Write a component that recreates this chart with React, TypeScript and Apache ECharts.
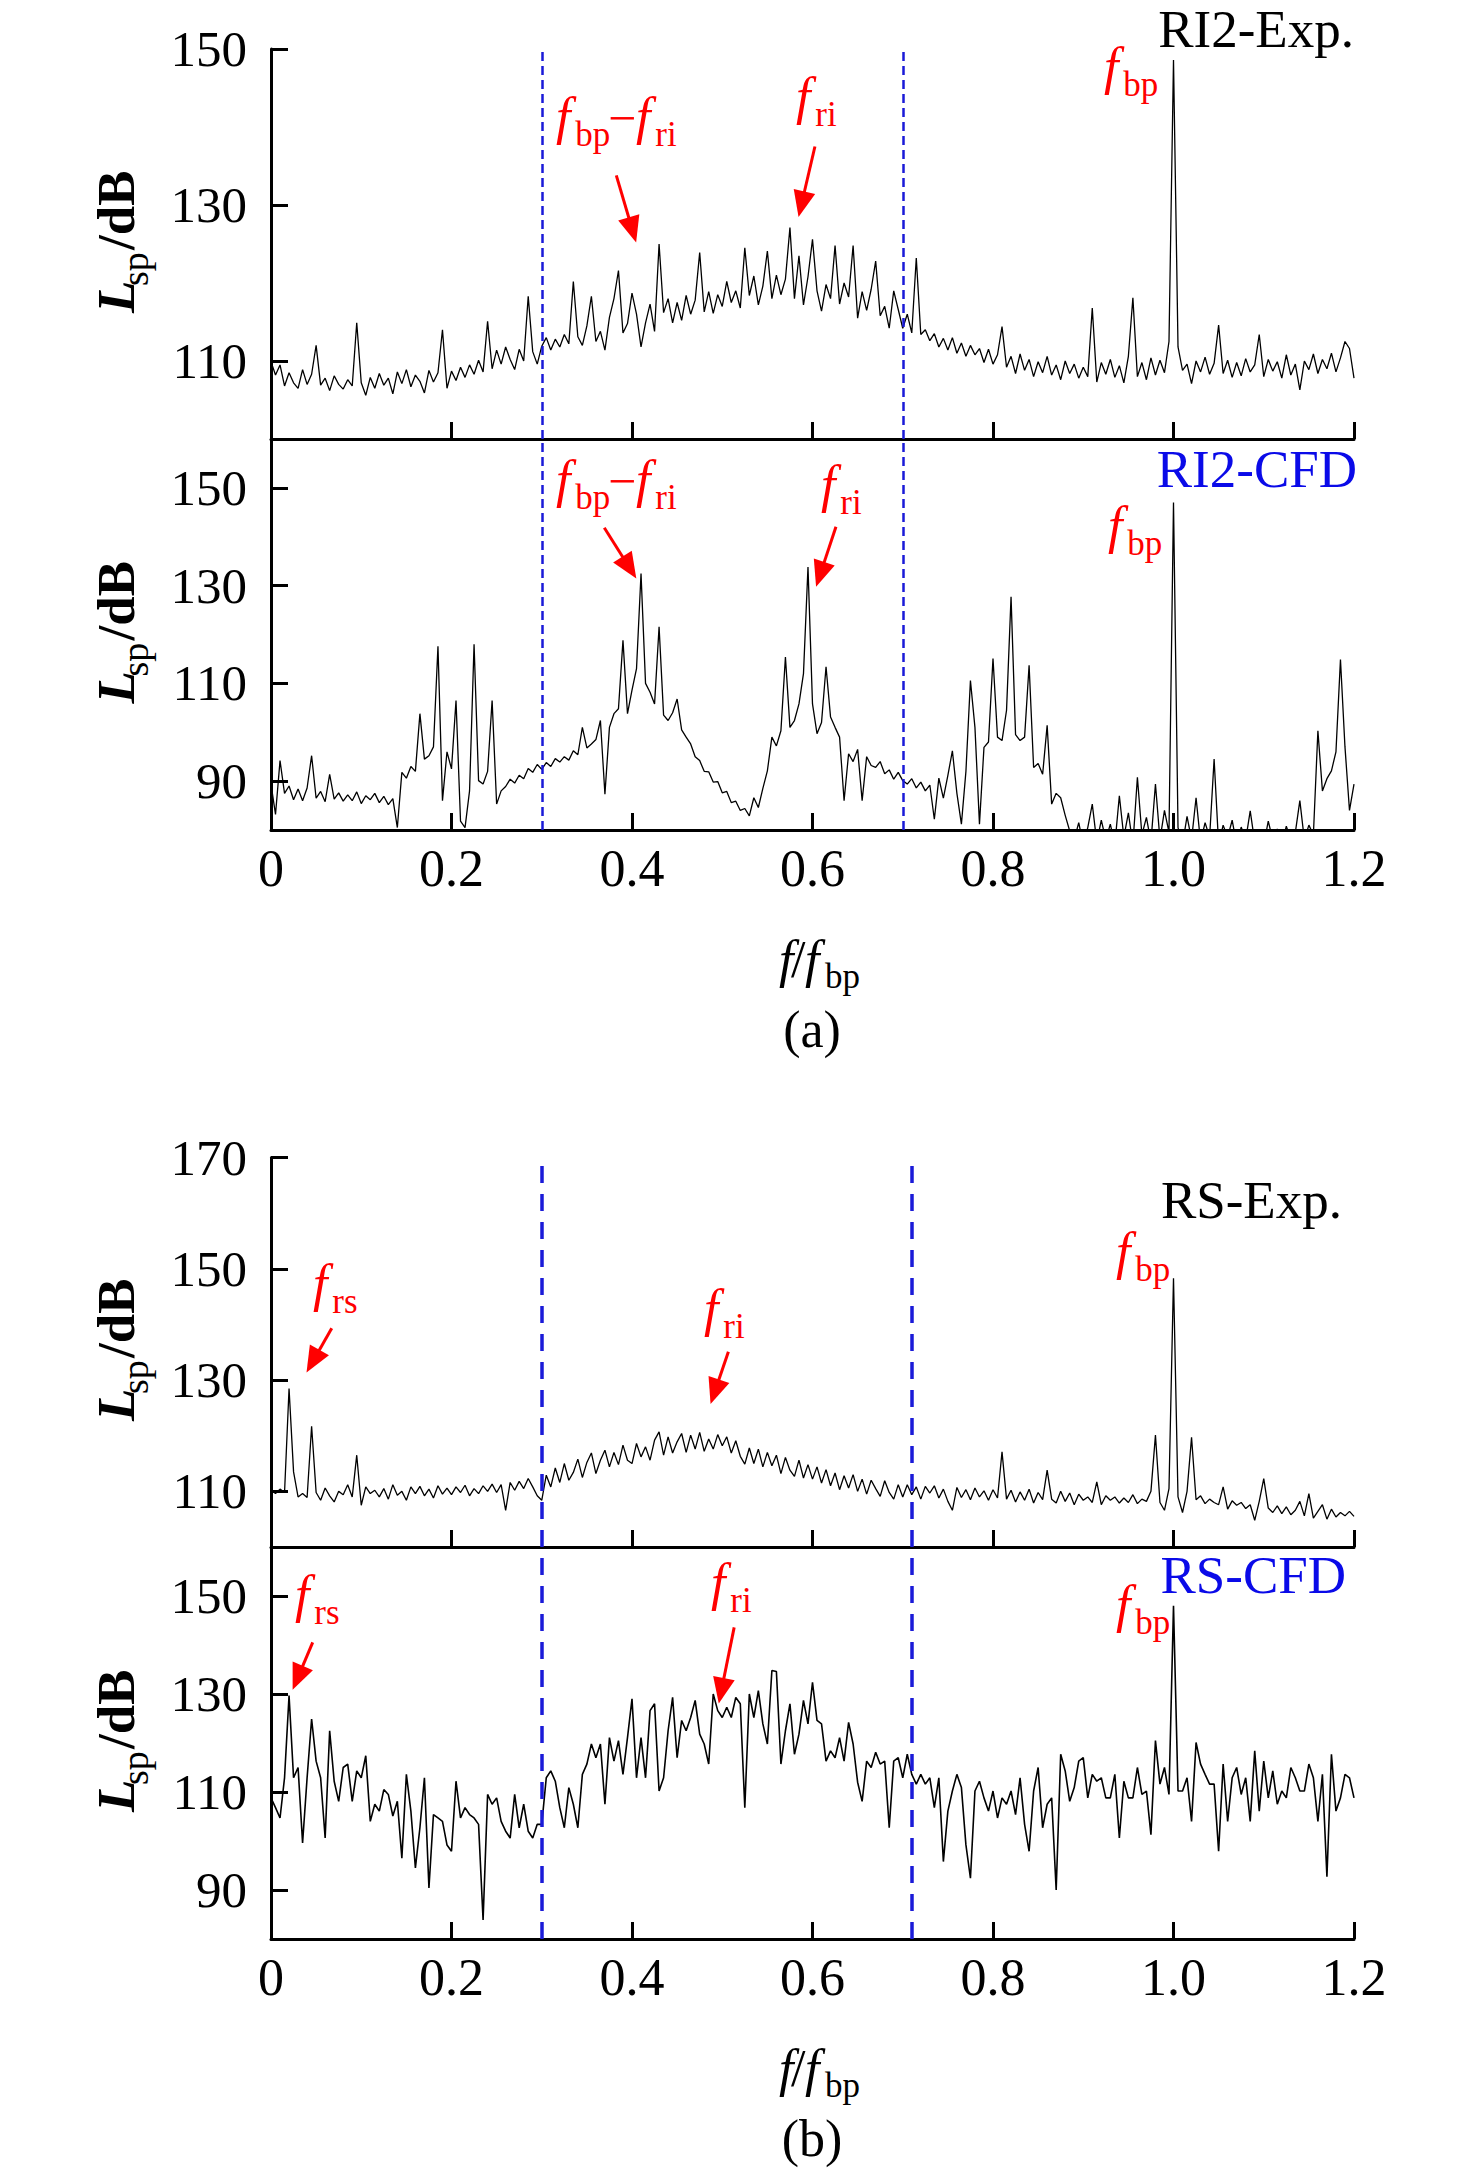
import React, { useEffect, useRef } from 'react';
import * as echarts from 'echarts';

// ---------------- data (f/f_bp grid step 0.005, 0 .. 1.2) ----------------
const STEP = 0.005;

// (a) RI2 experiment, Lsp in dB
const RI2_EXP = [
  109.9,108.2,109.5,106.8,108.5,107.2,106.5,108.9,107.0,108.3,112.0,106.9,107.8,106.2,108.1,107.0,106.4,107.6,106.8,114.9,
  107.2,105.6,107.9,106.5,108.4,106.9,107.8,105.8,108.6,107.1,108.9,106.7,108.2,107.4,105.9,108.8,107.3,108.5,114.0,106.5,
  108.7,107.5,109.2,107.9,109.5,108.3,110.1,108.6,115.1,109.0,111.4,109.6,111.8,110.2,108.9,111.5,110.0,118.3,111.2,109.6,
  111.9,113.0,111.4,112.8,111.8,113.4,112.2,120.2,113.1,112.0,114.5,118.3,112.5,113.8,111.4,115.6,118.0,121.6,113.6,114.8,
  118.7,116.0,111.8,114.9,117.3,113.8,125.0,116.2,118.0,114.9,117.5,115.2,118.4,116.0,117.8,123.9,116.3,118.9,116.1,118.5,
  117.0,120.2,117.5,119.0,116.8,124.5,118.4,120.9,117.2,119.6,124.1,118.0,121.0,118.5,120.5,127.1,118.0,123.5,117.2,120.8,
  125.6,119.0,116.4,119.8,118.0,124.8,117.3,120.0,118.2,124.8,115.5,118.9,116.5,119.2,122.8,115.8,117.0,114.2,119.0,116.6,
  114.2,116.0,113.6,123.2,113.4,114.0,112.6,113.5,111.8,112.9,111.4,113.0,111.0,112.3,110.6,112.0,110.8,111.6,109.8,111.5,
  109.6,110.8,114.4,109.2,110.6,108.4,110.9,108.8,110.2,108.0,109.9,108.5,110.6,108.2,109.5,107.6,110.0,108.4,109.6,107.8,
  109.2,108.0,116.8,107.3,109.8,108.3,110.2,107.9,109.4,107.2,110.6,118.1,108.0,109.8,107.6,110.4,108.2,110.1,108.5,112.5,
  148.6,111.8,108.8,109.6,107.1,110.0,108.6,110.5,108.3,109.7,114.6,108.4,110.1,107.9,109.8,108.1,110.3,108.6,109.5,113.4,
  108.0,110.2,108.7,109.9,107.8,110.8,108.2,109.6,106.3,110.0,108.9,110.9,108.4,110.2,109.0,111.0,108.6,110.4,112.5,111.6,
  107.8,
];

// (a) RI2 CFD
const RI2_CFD = [
  89.4,83.2,94.2,87.5,89.0,86.2,88.4,86.0,88.6,95.2,86.5,87.9,85.8,91.4,86.3,87.6,85.9,87.2,86.0,87.8,
  85.4,87.0,86.2,87.5,85.6,86.9,85.2,86.4,80.5,91.8,90.6,93.0,92.0,103.8,94.5,95.2,97.0,117.6,86.0,96.0,
  92.5,106.5,81.8,80.5,88.0,118.0,90.1,89.4,92.0,106.5,85.3,88.0,88.9,90.4,89.6,91.2,90.5,92.6,91.8,93.4,
  92.4,93.8,93.0,94.6,93.9,95.0,94.3,96.2,95.4,101.0,96.8,97.6,98.5,102.4,87.3,101.0,103.8,104.8,118.8,103.8,
  108.6,113.0,132.5,110.0,108.2,105.8,121.6,103.5,102.4,104.0,106.8,100.5,99.0,97.6,95.0,94.2,92.0,91.9,89.8,89.9,
  87.6,87.9,85.6,85.9,84.0,84.4,82.9,86.6,84.6,88.5,92.1,99.0,97.2,100.3,115.4,101.0,102.4,105.8,112.0,133.8,
  105.8,99.7,102.0,113.4,103.1,101.0,99.0,86.0,95.6,94.0,96.5,86.0,95.0,93.2,92.8,94.0,91.5,92.3,90.4,91.8,
  90.1,89.4,90.5,88.6,89.8,88.0,89.2,82.2,90.6,86.5,91.2,96.2,87.5,81.2,92.0,110.6,101.0,81.2,96.9,98.0,
  115.1,99.0,98.3,104.5,127.7,99.5,98.3,99.0,113.7,92.8,93.6,91.4,101.4,85.3,87.5,86.6,83.0,79.8,78.0,81.5,
  77.0,80.5,85.3,77.5,82.0,78.0,81.2,77.0,87.0,78.5,83.5,77.0,90.8,79.0,82.6,77.5,89.4,78.0,84.0,79.5,
  147.0,80.5,77.0,82.8,78.0,86.6,77.5,81.5,78.5,94.5,77.0,81.0,78.5,82.0,77.0,80.6,78.0,83.9,77.5,79.8,
  77.0,81.8,78.0,80.2,77.0,80.8,78.0,79.5,86.0,78.0,81.0,79.0,100.3,88.0,90.5,92.1,96.0,114.9,97.0,84.0,
  89.4,
];

// (b) RS experiment
const RS_EXP = [
  110.2,109.6,110.4,109.8,128.5,113.5,109.0,109.6,108.9,121.7,109.8,108.4,110.6,109.2,108.1,110.0,109.4,111.2,109.0,116.5,
  107.5,110.8,109.6,110.2,109.0,110.5,108.6,111.2,109.3,110.0,108.4,110.8,109.6,110.9,109.2,110.4,108.8,111.0,109.5,110.6,
  109.4,110.8,109.8,111.1,109.2,110.5,109.6,111.0,110.0,111.3,109.8,111.2,106.6,111.6,110.2,111.8,110.5,112.3,110.8,109.2,
  108.4,112.9,110.8,114.2,111.6,115.0,112.0,113.4,115.8,112.5,115.2,116.9,113.2,115.6,117.4,114.4,117.0,114.8,118.3,115.6,
  115.0,118.6,116.2,118.0,115.6,119.2,120.7,116.5,119.8,116.9,118.9,120.4,117.0,120.1,117.6,120.6,117.2,119.4,117.6,120.2,
  118.2,119.8,116.9,119.1,116.3,114.9,117.8,115.0,117.6,114.4,117.0,114.6,116.5,113.2,116.1,113.8,112.7,115.6,112.4,114.8,
  112.2,114.4,111.5,113.9,111.0,113.3,110.3,112.8,110.6,113.0,110.0,112.2,109.5,112.0,110.5,109.1,111.9,109.8,108.6,111.2,
  109.0,111.2,109.4,110.8,108.6,110.9,109.7,111.0,108.8,110.4,108.2,106.6,110.7,108.9,110.3,108.5,110.6,109.0,110.1,108.4,
  110.3,108.8,117.1,108.6,110.2,108.1,109.9,108.4,110.4,107.9,109.8,108.5,113.8,108.6,107.9,110.0,108.2,109.7,107.6,109.5,
  108.4,109.0,108.0,111.7,107.6,109.2,108.4,109.0,107.9,108.8,108.0,109.4,107.8,108.6,108.2,110.0,120.1,108.0,106.6,110.5,
  148.3,109.0,106.2,110.0,119.7,108.5,109.2,107.8,108.6,108.0,107.6,110.8,106.8,108.3,107.5,108.0,106.9,107.6,104.8,108.2,
  112.3,107.0,106.2,107.4,106.0,107.2,105.8,106.6,108.2,105.6,109.6,105.2,106.4,107.6,105.0,106.8,105.4,106.2,105.6,106.4,
  105.5,
];

// (b) RS CFD
const RS_CFD = [
  108.8,106.8,104.7,112.9,129.7,112.9,115.0,99.6,112.9,124.9,116.3,112.9,100.6,122.5,112.2,108.1,115.0,115.7,108.1,114.3,
  112.9,117.4,104.0,107.5,106.1,110.5,109.5,105.1,108.1,96.5,113.6,106.1,94.5,102.7,112.9,90.4,105.4,104.7,104.0,99.2,
  97.9,112.2,104.7,106.8,105.4,104.7,103.4,83.9,109.5,107.5,108.8,104.0,102.0,100.6,109.5,102.7,107.5,102.0,100.6,103.4,
  103.4,112.9,114.3,112.2,106.8,102.7,110.9,107.5,102.7,113.6,115.7,119.8,117.0,119.8,107.5,121.1,116.3,120.5,113.6,121.1,
  129.0,112.9,121.1,112.9,126.6,128.0,110.2,112.9,122.5,129.3,117.0,124.6,122.5,125.2,128.7,121.8,119.8,115.7,130.0,126.6,
  125.2,127.3,125.2,129.3,128.0,106.8,130.0,125.2,130.7,123.9,119.8,134.8,134.6,115.7,122.5,128.0,117.7,121.8,128.7,123.9,
  132.4,124.6,123.9,116.3,118.4,117.0,121.1,116.3,124.2,119.8,112.0,108.1,116.3,115.0,118.1,115.7,116.3,102.7,116.3,117.0,
  112.9,117.7,113.6,111.6,113.6,111.6,112.9,106.8,112.9,95.8,106.1,110.2,113.6,110.9,99.2,92.4,110.2,112.2,108.8,106.1,
  110.2,104.7,108.8,107.5,110.2,105.4,112.9,103.4,97.9,110.2,115.0,102.7,107.5,108.8,90.0,117.7,114.3,108.1,110.9,116.3,
  117.0,108.8,113.6,112.2,112.9,108.8,108.8,113.6,100.6,112.2,108.8,108.8,115.0,109.5,110.2,101.3,120.5,111.6,115.0,109.5,
  148.0,110.2,110.2,112.9,104.0,120.1,115.7,113.6,111.6,111.6,97.9,115.7,104.0,112.9,115.0,109.5,112.9,104.0,118.4,106.1,
  116.3,108.8,114.3,107.5,110.2,108.8,115.0,112.9,110.2,110.2,115.7,112.9,104.0,113.6,92.7,117.7,106.1,108.8,113.6,112.9,
  108.8,
];

// axes
const X_MIN = 0;
const X_MAX = 1.2;
const X_INTERVAL = 0.2;
const Y_MIN = [100, 80, 100, 80];
const Y_MAX = [150, 160, 170, 160];
const Y_TICKS = [
  [110, 130, 150],
  [90, 110, 130, 150],
  [110, 130, 150, 170],
  [90, 110, 130, 150],
];

// blue boundaries of the f/f_bp band
const BAND_A = [0.3, 0.7];
const BAND_B = [0.3, 0.707];

// red arrows per panel: [fromX, fromL, toX, toL]
const ARROWS = [
  [[0.3826, 133.8, 0.4005, 126.8], [0.6027, 137.5, 0.5878, 130.1]],
  [[0.3693, 141.85, 0.3971, 133.7], [0.626, 142.05, 0.6085, 132.3]],
  [[0.0673, 139.3, 0.0465, 133.4], [0.5068, 135.1, 0.4917, 127.9]],
  [[0.0462, 140.55, 0.0296, 133.3], [0.5132, 143.6, 0.499, 130.65]],
];

// ---------------- styling ----------------
const FONT = '"Liberation Serif", "Times New Roman", serif';
const RED = '#ff0000';
const BLUE = '#0a0ae8';
const LINE_BLUE = '#1a1ad8';

const GRIDS = [
  { left: 271, width: 1083, top: 49, height: 390 },
  { left: 271, width: 1083, top: 439, height: 391 },
  { left: 271, width: 1083, top: 1157.5, height: 389.5 },
  { left: 271, width: 1083, top: 1547, height: 392 },
];

function txt(text: string, x: number, baseline: number, size: number, opt: any = {}) {
  const { italic = false, bold = false, color = '#000', align = 'left' } = opt;
  return {
    type: 'text',
    x,
    y: baseline - 0.33 * size,
    silent: true,
    z: 100,
    style: {
      text,
      fill: color,
      fontFamily: FONT,
      fontSize: size,
      lineHeight: Math.round(size * 0.8),
      fontStyle: italic ? 'italic' : 'normal',
      fontWeight: bold ? 'bold' : 'normal',
      align,
      verticalAlign: 'middle',
      textAlign: align,
      textVerticalAlign: 'middle',
    },
  };
}

function fsub(x: number, baseline: number, sub: string, color = RED, size = 52, subSize = 35) {
  return [
    txt('f', x, baseline, size, { italic: true, color }),
    txt(sub, x + 0.37 * size, baseline + 12, subSize, { color }),
  ];
}

function diffLabel(x: number, baseline: number) {
  return [
    ...fsub(x, baseline, 'bp'),
    txt('\u2212', x + 52, baseline, 50, { color: RED }),
    ...fsub(x + 80, baseline, 'ri'),
  ];
}

function yTitle(cy: number) {
  return {
    type: 'group',
    x: 133,
    y: cy,
    rotation: Math.PI / 2,
    silent: true,
    children: [
      txt('L', -69, 0, 53, { italic: true, bold: true }),
      txt('sp', -42, 15, 38),
      txt('/dB', -6, 0, 53, { bold: true }),
    ],
  };
}

function xTitle(baseline: number, tag: string) {
  return [
    txt('f', 779, baseline, 52, { italic: true }),
    txt('/', 791, baseline, 52),
    txt('f', 805, baseline, 52, { italic: true }),
    txt('bp', 825, baseline + 11, 35),
    txt(tag, 812, baseline + 70, 52, { align: 'center' }),
  ];
}

function buildOption() {
  const datasets = [RI2_EXP, RI2_CFD, RS_EXP, RS_CFD];
  const bands = [BAND_A, BAND_A, BAND_B, BAND_B];
  const dashStyles = [
    { type: [9, 5], width: 2.5 },
    { type: [9, 5], width: 2.5 },
    { type: [17, 11], width: 3.5 },
    { type: [17, 11], width: 3.5 },
  ];

  const xAxis = GRIDS.map((_, i) => ({
    gridIndex: i,
    type: 'value',
    min: X_MIN,
    max: X_MAX,
    interval: X_INTERVAL,
    axisLine: { show: true, onZero: false, lineStyle: { color: '#000', width: 3 } },
    axisTick: { show: true, inside: true, length: 17, lineStyle: { color: '#000', width: 3 } },
    axisLabel: {
      show: i === 1 || i === 3,
      color: '#000',
      fontFamily: FONT,
      fontSize: 52,
      margin: 12,
      formatter: (v: number) => (v === 0 ? '0' : v.toFixed(1)),
    },
    splitLine: { show: false },
  }));

  const yAxis = GRIDS.map((_, i) => ({
    gridIndex: i,
    type: 'value',
    min: Y_MIN[i],
    max: Y_MAX[i],
    axisLine: { show: true, onZero: false, lineStyle: { color: '#000', width: 3 } },
    axisTick: {
      show: true,
      inside: true,
      length: 17,
      customValues: Y_TICKS[i],
      lineStyle: { color: '#000', width: 3 },
    },
    axisLabel: {
      show: true,
      customValues: Y_TICKS[i],
      color: '#000',
      fontFamily: FONT,
      fontSize: 51,
      margin: 24,
    },
    splitLine: { show: false },
  }));

  const series = datasets.map((vals, i) => ({
    type: 'line',
    xAxisIndex: i,
    yAxisIndex: i,
    data: vals.map((v, k) => [k * STEP, v]),
    showSymbol: false,
    symbol: 'none',
    clip: true,
    silent: true,
    lineStyle: { color: '#000', width: i === 3 ? 1.6 : 1.3 },
    markLine: {
      silent: true,
      animation: false,
      symbol: ['none', 'none'],
      label: { show: false },
      data: [
        ...bands[i].map((x) => ({
          xAxis: x,
          symbol: 'none',
          lineStyle: { color: LINE_BLUE, ...dashStyles[i] },
        })),
        ...ARROWS[i].map((a) => [
          { coord: [a[0], a[1]], symbol: 'none', lineStyle: { color: RED, width: 3, type: 'solid' } },
          { coord: [a[2], a[3]], symbol: 'triangle', symbolSize: [22, 26] },
        ]),
      ],
      itemStyle: { color: RED },
    },
  }));

  const graphic: any[] = [
    yTitle(244),
    yTitle(634.5),
    yTitle(1352),
    yTitle(1743),
    // panel labels
    txt('RI2-Exp.', 1354, 46, 53, { align: 'right' }),
    txt('RI2-CFD', 1357, 486, 53, { align: 'right', color: BLUE }),
    txt('RS-Exp.', 1342, 1217, 53, { align: 'right' }),
    txt('RS-CFD', 1346, 1592, 53, { align: 'right', color: BLUE }),
    // (a) upper annotations
    ...diffLabel(556, 134),
    ...fsub(796, 114, 'ri'),
    ...fsub(1104, 84, 'bp'),
    // (a) lower annotations
    ...diffLabel(556, 497),
    ...fsub(821, 502, 'ri'),
    ...fsub(1108, 543, 'bp'),
    // (b) upper annotations
    ...fsub(313, 1301, 'rs'),
    ...fsub(704, 1326, 'ri'),
    ...fsub(1116, 1269, 'bp'),
    // (b) lower annotations
    ...fsub(295, 1612, 'rs'),
    ...fsub(711, 1600, 'ri'),
    ...fsub(1116, 1622, 'bp'),
    // x titles and panel tags
    ...xTitle(977, '(a)'),
    ...xTitle(2086, '(b)'),
  ];

  return {
    animation: false,
    backgroundColor: '#ffffff',
    grid: GRIDS.map((g) => ({ ...g, containLabel: false, outerBoundsMode: 'none' })),
    xAxis,
    yAxis,
    series,
    graphic,
  };
}

export default function App() {
  const ref = useRef<HTMLDivElement>(null);
  useEffect(() => {
    if (!ref.current) return;
    const chart = echarts.init(ref.current, undefined, { renderer: 'svg' });
    chart.setOption(buildOption() as any);
    return () => chart.dispose();
  }, []);
  return (
    <div
      ref={ref}
      style={{ position: 'absolute', left: 0, top: 0, width: 1476, height: 2172, background: '#fff' }}
    />
  );
}
